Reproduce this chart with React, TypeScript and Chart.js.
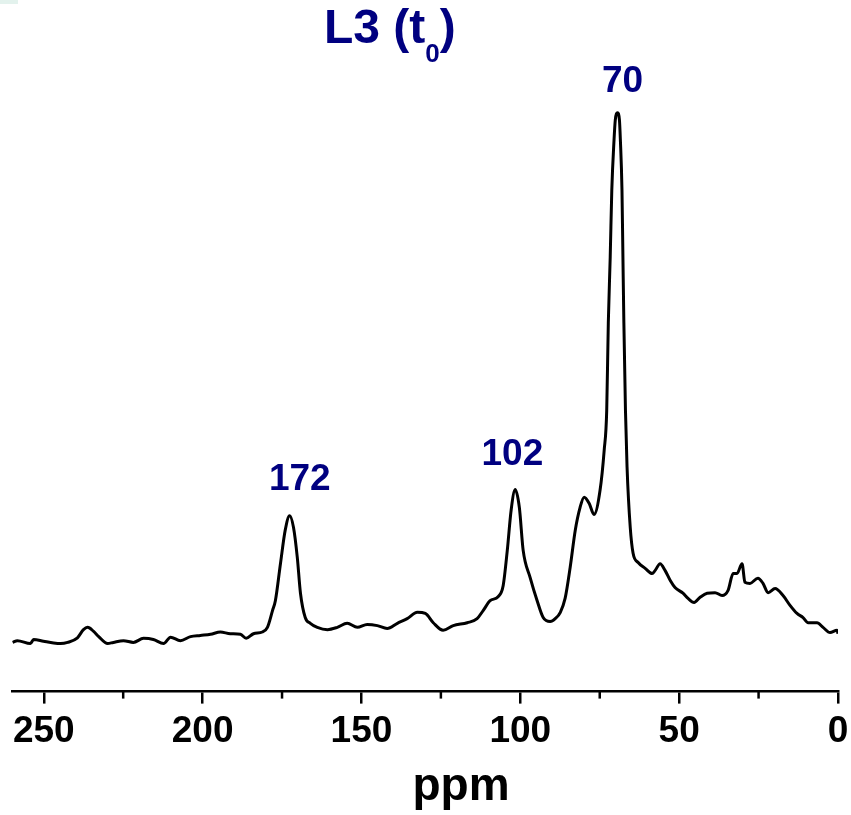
import React, { useEffect, useRef } from "react";
import { Chart, registerables } from "chart.js";

Chart.register(...registerables);

// Chemical shift (ppm) and normalised intensity
const ppm: number[] = [
  259.8, 258.3, 254.2, 253.2, 250.1, 246.9, 244.7, 242.5, 239.4, 237.5, 236.2, 234.3, 232.7, 229.9, 228.1,
  224.9, 221.8, 218.6, 215.5, 212.3, 210.1, 207.0, 203.8, 200.7, 197.5, 194.4, 191.3, 188.1, 186.3, 184.0,
  181.2, 179.6, 178.0, 177.1, 175.5, 174.0, 172.6, 171.4, 170.2, 169.2, 167.7, 166.1, 163.9, 160.7, 157.6,
  154.5, 151.3, 148.2, 145.0, 141.9, 138.7, 135.6, 132.4, 129.9, 127.4, 124.3, 121.1, 116.7, 113.6, 111.7,
  109.5, 107.0, 105.4, 104.1, 102.9, 101.6, 100.3, 99.1, 96.9, 94.7, 92.8, 90.6, 89.0, 87.4, 85.9,
  84.3, 82.7, 81.2, 79.9, 78.3, 76.8, 74.9, 73.6, 72.8, 72.3, 71.7, 71.2, 70.5, 70.1, 69.4,
  68.8, 68.5, 68.0, 67.7, 67.4, 66.9, 66.4, 65.4, 64.5, 62.9, 60.7, 58.5, 57.6, 56.0, 54.4,
  52.8, 51.3, 48.8, 47.2, 45.3, 43.4, 41.2, 38.7, 36.5, 34.6, 33.0, 31.8, 30.2, 29.3, 27.7,
  25.2, 23.6, 22.0, 19.8, 17.3, 15.1, 12.9, 11.0, 9.4, 6.6, 4.7, 2.5, 0.3, 0.0,
];
const intensity: number[] = [
  8.5, 8.8, 8.3, 9.0, 8.7, 8.4, 8.3, 8.5, 9.3, 10.7, 11.1, 10.4, 9.5, 8.3, 8.5,
  8.8, 8.5, 9.2, 9.0, 8.3, 9.4, 8.8, 9.5, 9.7, 9.9, 10.3, 10.0, 9.9, 9.2, 10.0,
  10.3, 11.1, 14.0, 15.7, 22.1, 27.9, 30.4, 28.4, 23.2, 17.0, 12.8, 11.8, 11.1, 10.7, 11.1,
  11.8, 11.1, 11.6, 11.4, 10.9, 11.8, 12.6, 13.7, 13.5, 11.9, 10.6, 11.4, 11.9, 12.6, 14.0,
  15.7, 16.4, 18.3, 24.4, 31.3, 34.9, 31.8, 24.4, 19.7, 15.7, 12.8, 12.1, 12.6, 13.7, 16.1,
  21.5, 27.9, 31.8, 33.6, 32.5, 30.6, 34.8, 41.7, 48.6, 63.7, 75.1, 86.7, 95.3, 98.8, 100,
  98.8, 95.3, 86.7, 75.1, 63.7, 48.6, 38.8, 28.4, 23.9, 22.3, 21.3, 20.4, 20.9, 22.1, 20.9,
  19.2, 18.0, 17.0, 16.1, 15.4, 16.3, 17.0, 17.1, 16.6, 17.5, 20.4, 20.4, 22.1, 18.9, 18.7,
  19.6, 18.7, 17.1, 17.8, 16.6, 14.9, 13.5, 12.8, 11.9, 11.9, 11.1, 10.2, 10.6, 10.0,
];

// Peak annotations (text, anchor in data units)
const peakLabels: string[] = ["172", "102", "70"];
const peakLabelPpm: number[] = [169.4, 102.5, 67.8];
const peakLabelY: number[] = [34.8, 39.1, 103.6];

const majorTicks: number[] = [0, 50, 100, 150, 200, 250];
const minorTicks: number[] = [25, 75, 125, 175, 225];

const titleMain = "L3 (t";
const titleSub = "0";
const titleEnd = ")";
const xTitle = "ppm";

const FONT = "'Liberation Sans', Arial, Helvetica, sans-serif";
const NAVY = "#000080";

const decorPlugin = {
  id: "decor",
  afterDraw(chart: any) {
    const ctx = chart.ctx as CanvasRenderingContext2D;
    const xs = chart.scales.x;
    const ys = chart.scales.y;
    ctx.save();

    // faint corner artifact
    ctx.fillStyle = "rgba(200,230,220,0.5)";
    ctx.fillRect(0, 0, 18, 4);

    // minor ticks
    ctx.strokeStyle = "#000";
    ctx.lineWidth = 2.5;
    const bottom = chart.chartArea.bottom;
    minorTicks.forEach((v) => {
      const x = xs.getPixelForValue(v);
      ctx.beginPath();
      ctx.moveTo(x, bottom);
      ctx.lineTo(x, bottom + 7);
      ctx.stroke();
    });

    // title with subscript
    ctx.fillStyle = NAVY;
    ctx.textBaseline = "alphabetic";
    ctx.textAlign = "left";
    let tx = 324;
    ctx.font = `bold 48px ${FONT}`;
    ctx.fillText(titleMain, tx, 43);
    tx += ctx.measureText(titleMain).width;
    ctx.font = `bold 26px ${FONT}`;
    ctx.fillText(titleSub, tx, 62);
    tx += ctx.measureText(titleSub).width;
    ctx.font = `bold 48px ${FONT}`;
    ctx.fillText(titleEnd, tx, 43);

    // peak labels
    ctx.font = `bold 37px ${FONT}`;
    ctx.textAlign = "center";
    peakLabels.forEach((t, i) => {
      ctx.fillText(t, xs.getPixelForValue(peakLabelPpm[i]), ys.getPixelForValue(peakLabelY[i]));
    });

    // x axis title
    ctx.fillStyle = "#000";
    ctx.font = `bold 46px ${FONT}`;
    ctx.fillText(xTitle, 461, 800);
    ctx.restore();
  },
};

export default function App() {
  const ref = useRef<HTMLCanvasElement | null>(null);
  useEffect(() => {
    if (!ref.current) return;
    const chart = new Chart(ref.current, {
      type: "line",
      data: {
        datasets: [
          {
            data: ppm.map((p, i) => ({ x: p, y: intensity[i] })),
            borderColor: "#000",
            borderWidth: 3,
            pointRadius: 0,
            cubicInterpolationMode: "monotone",
            fill: false,
          },
        ],
      },
      options: {
        animation: false,
        responsive: false,
        devicePixelRatio: 1,
        layout: { padding: { left: 12, right: 13, top: 55, bottom: 55 } },
        plugins: { legend: { display: false }, tooltip: { enabled: false }, title: { display: false } },
        scales: {
          x: {
            type: "linear",
            reverse: true,
            min: 0,
            max: 260,
            afterBuildTicks: (axis: any) => {
              axis.ticks = majorTicks.map((v) => ({ value: v }));
            },
            ticks: {
              includeBounds: false,
              stepSize: 50,
              padding: 6,
              color: "#000",
              font: { family: FONT, size: 37, weight: "bold" },
              maxRotation: 0,
              autoSkip: false,
            },
            grid: {
              display: true,
              drawOnChartArea: false,
              drawTicks: true,
              tickLength: 12,
              lineWidth: 2.5,
              color: "#000",
            },
            border: { display: true, width: 2.5, color: "#000" },
          },
          y: { display: false, min: 0, max: 110 },
        },
      },
      plugins: [decorPlugin],
    });
    return () => chart.destroy();
  }, []);
  return (
    <div style={{ position: "absolute", left: 0, top: 0, width: 851, height: 815, background: "#fff" }}>
      <canvas ref={ref} width={851} height={815} />
    </div>
  );
}
